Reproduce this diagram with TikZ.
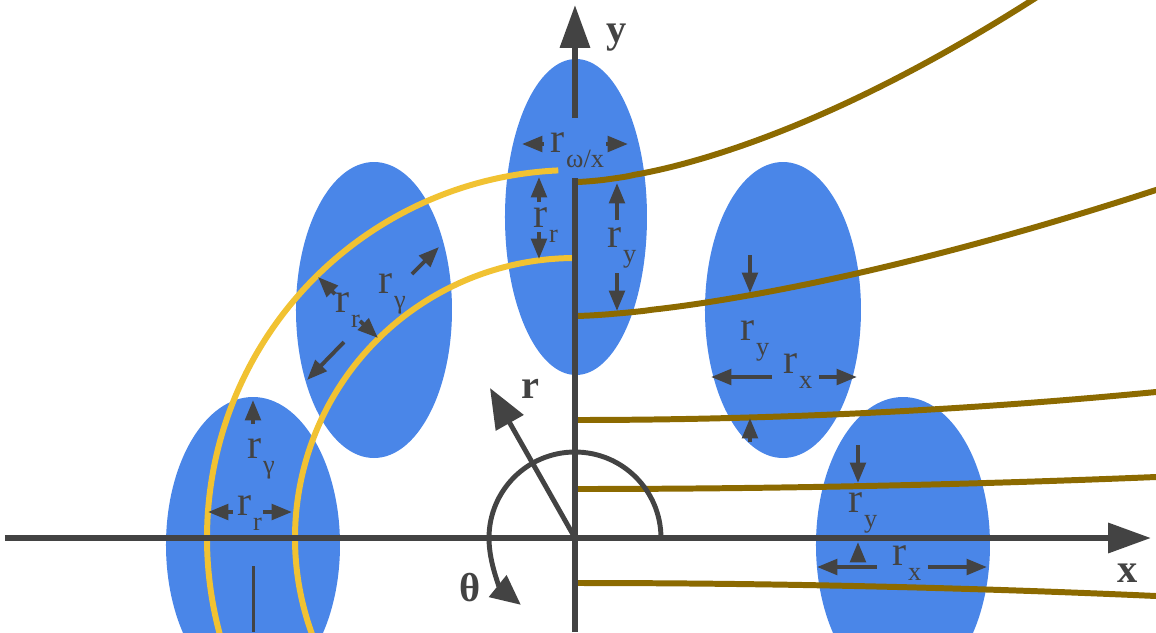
\documentclass[tikz,border=0pt]{standalone}
\usepackage{fontspec}
\setmainfont{Liberation Serif}
\usetikzlibrary{arrows.meta}
\definecolor{ink}{RGB}{67,67,67}
\definecolor{lobe}{RGB}{74,134,232}
\definecolor{ring}{RGB}{241,194,50}
\definecolor{flux}{RGB}{140,106,0}
\newcommand{\rsub}[1]{r\kern0.4pt\raisebox{-4.4pt}{\fontsize{7.5}{8}\selectfont #1}}

\begin{document}
\begin{tikzpicture}[
  x=0.01cm, y=0.01cm,
  lobefill/.style={fill=lobe},
  ringline/.style={draw=ring, line width=1.7pt},
  fluxline/.style={draw=flux, line width=1.7pt, samples=80, smooth},
  axisline/.style={draw=ink, line width=1.7pt, -{Triangle[length=12.2pt,width=8.3pt]}},
  dimarr/.style={draw=ink, line width=1.1pt, -{Triangle[length=5.8pt,width=4.4pt]}},
  polarline/.style={draw=ink, line width=1.4pt},
  lab/.style={text=ink, inner sep=0pt, anchor=base west, font=\fontsize{12}{14}\selectfont},
  blab/.style={text=ink, inner sep=0pt, font=\fontsize{11.5}{13}\selectfont\bfseries},
]
\useasboundingbox (-575,-94) rectangle (581,538);
\clip (-575,-94) rectangle (581,538);
\coordinate (O) at (0,0);

% lobes
\fill[lobefill] (1,321) ellipse [x radius=71, y radius=158];
\fill[lobefill] (-201,228) ellipse [x radius=78, y radius=148];
\fill[lobefill] (208,228) ellipse [x radius=78, y radius=148];
\fill[lobefill] (-322,-7) ellipse [x radius=87, y radius=148];
\fill[lobefill] (328,-7) ellipse [x radius=87, y radius=148];

% rings
\draw[ringline] (O) ++(92.6:368) arc [start angle=92.6, end angle=200, radius=368];
\draw[ringline] (O) ++(90.5:280) arc [start angle=90.5, end angle=200, radius=280];

% field lines
\draw[fluxline, domain=3:500] plot (\x, {356+185*pow(\x/462,1.6)});
\draw[fluxline, domain=3:590] plot (\x, {222+126*pow(\x/581,1.5)});
\draw[fluxline, domain=3:590] plot (\x, {118+28*(\x/581)^2});
\draw[fluxline, domain=3:590] plot (\x, {49+12*(\x/581)^2});
\draw[fluxline, domain=3:590] plot (\x, {-45-13*(\x/581)^2});

% axes
\draw[axisline] (-570,0) -- (576,0);
\draw[axisline, -] (0,-94) -- (0,360);
\draw[axisline] (0,420) -- (0,533);
\node[blab] (xlab) at (553,-35) {x};
\node[blab] (ylab) at (42,500) {y};

% polar
\draw[polarline, -{Triangle[length=11.4pt,width=8.8pt]}] (O) -- (-85,150);
\draw[polarline, -{Triangle[length=8.5pt,width=7.7pt]}] (O) ++(86,0) arc [start angle=0, end angle=231, radius=86];
\node[blab] (rlab) at (-45,149) {r};
\node[blab] (thlab) at (-105,-50) {θ};

% top lobe
\draw[dimarr] (-31,394) -- (-53,394);
\draw[dimarr] (31,394) -- (53,394);
\node[lab] (rwx) at (-25,386) {\rsub{ω/x}};
\draw[dimarr] (-36,336) -- (-36,361);
\draw[dimarr] (-36,306) -- (-36,279);
\node[lab] (rr1) at (-42,311) {\rsub{r}};
\draw[dimarr] (42,318) -- (42,355);
\draw[dimarr] (42,265) -- (42,227);
\node[lab] (ry1) at (32,291) {\rsub{y}};

% upper-left lobe
\draw[dimarr] (-240,244) -- (-257,261);
\draw[dimarr] (-215,217) -- (-197,200);
\node[lab] (rr2) at (-240,226) {\rsub{r}};
\draw[dimarr] (-163,264) -- (-136,291);
\draw[dimarr] (-231,196) -- (-268,158);
\node[lab] (rg2) at (-197,245) {\rsub{γ}};

% lower-left lobe
\draw[dimarr] (-322,114) -- (-322,138);
\node[lab] (rg3) at (-328,80) {\rsub{γ}};
\draw[dimarr] (-342,26) -- (-367,26);
\draw[dimarr] (-312,26) -- (-283,26);
\node[lab] (rr3) at (-338,23) {\rsub{r}};
\draw[ink, line width=0.85pt] (-321,-28) -- (-321,-94);

% right lobe
\draw[dimarr] (175,283) -- (175,245);
\node[lab] (ry4) at (165,198) {\rsub{y}};
\draw[dimarr] (197,161) -- (136,161);
\draw[dimarr] (244,161) -- (282,161);
\node[lab] (rx4) at (208,165) {\rsub{x}};
\draw[dimarr] (175,96) -- (175,120);

% lower-right lobe
\draw[dimarr] (283,93) -- (283,55);
\node[lab] (ry5) at (273,26) {\rsub{y}};
\draw[dimarr] (283,-24) -- (283,-4);
\draw[dimarr] (302,-29) -- (242,-29);
\draw[dimarr] (353,-29) -- (412,-29);
\node[lab] (rx5) at (317,-27) {\rsub{x}};
\end{tikzpicture}
\end{document}
